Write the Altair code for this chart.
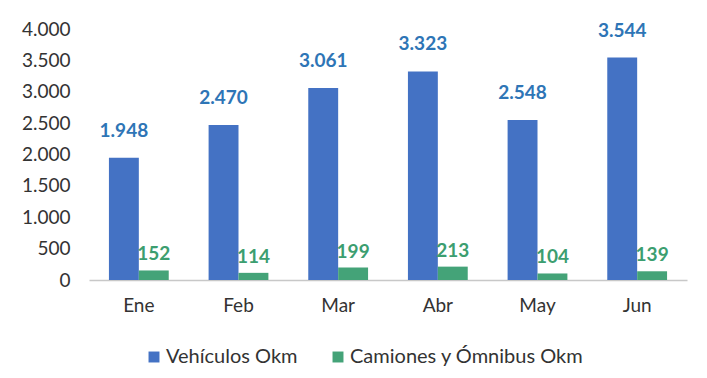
import altair as alt
import pandas as pd

months = ["Ene", "Feb", "Mar", "Abr", "May", "Jun"]
series_names = ["Vehículos Okm", "Camiones y Ómnibus Okm"]
vehiculos = [1948, 2470, 3061, 3323, 2548, 3544]
camiones = [152, 114, 199, 213, 104, 139]

rows = []
for m, v, c in zip(months, vehiculos, camiones):
    rows.append({"mes": m, "serie": series_names[0], "valor": v})
    rows.append({"mes": m, "serie": series_names[1], "valor": c})
df = pd.DataFrame(rows)

BLUE = "#4472C4"
GREEN = "#44A378"
BLUE_TXT = "#2E75B6"
GREEN_TXT = "#3C9E70"
FONT = "Lato"
TXT = "#333333"

fmt = "replace(format(datum.valor, ',d'), ',', '.')"

x = alt.X("mes:N", sort=months, title=None,
          scale=alt.Scale(paddingInner=0.4, paddingOuter=0.2),
          axis=alt.Axis(labelAngle=0, ticks=False, domainColor="#c8c8c8", domainWidth=1.5,
                        labelPadding=16, labelFontSize=19, labelFont=FONT, labelColor=TXT))
xo = alt.XOffset("serie:N", sort=series_names, scale=alt.Scale(domain=series_names, paddingInner=0))
y = alt.Y("valor:Q", title=None,
          scale=alt.Scale(domain=[0, 4000]),
          axis=alt.Axis(values=list(range(0, 4001, 500)), grid=False, domain=False, ticks=False,
                        labelPadding=19, labelFontSize=19, labelFont=FONT, labelColor=TXT,
                        labelExpr="replace(format(datum.value, ',d'), ',', '.')"))

bars = alt.Chart(df).mark_bar().encode(
    x=x, xOffset=xo, y=y,
    color=alt.Color("serie:N", sort=series_names,
                    scale=alt.Scale(domain=series_names, range=[BLUE, GREEN]),
                    legend=alt.Legend(title=None, orient="none", direction="horizontal",
                                      legendX=55, legendY=318, symbolType="square",
                                      symbolSize=120, symbolStrokeWidth=0,
                                      labelFontSize=20, labelFont=FONT, labelColor=TXT,
                                      labelLimit=0, columnPadding=30, labelOffset=2))
)

lab_blue = alt.Chart(df).transform_filter(
    alt.datum.serie == series_names[0]
).transform_calculate(lab=fmt).mark_text(
    baseline="bottom", dy=-17, fontSize=19, fontWeight="bold", font=FONT, color=BLUE_TXT
).encode(x=x, xOffset=xo, y=y, text="lab:N")

lab_green = alt.Chart(df).transform_filter(
    alt.datum.serie == series_names[1]
).transform_calculate(lab=fmt).mark_text(
    baseline="bottom", dy=-6, fontSize=19, fontWeight="bold", font=FONT, color=GREEN_TXT
).encode(x=x, xOffset=xo, y=y, text="lab:N")

chart = alt.layer(bars, lab_blue, lab_green).properties(
    width=598, height=251,
    background="white",
    autosize=alt.AutoSizeParams(type="none"),
    padding={"left": 89, "top": 29, "right": 20, "bottom": 98},
).configure_view(strokeWidth=0, stroke=None)

chart.save("out.html", embed_options={"renderer": "svg", "actions": False})
